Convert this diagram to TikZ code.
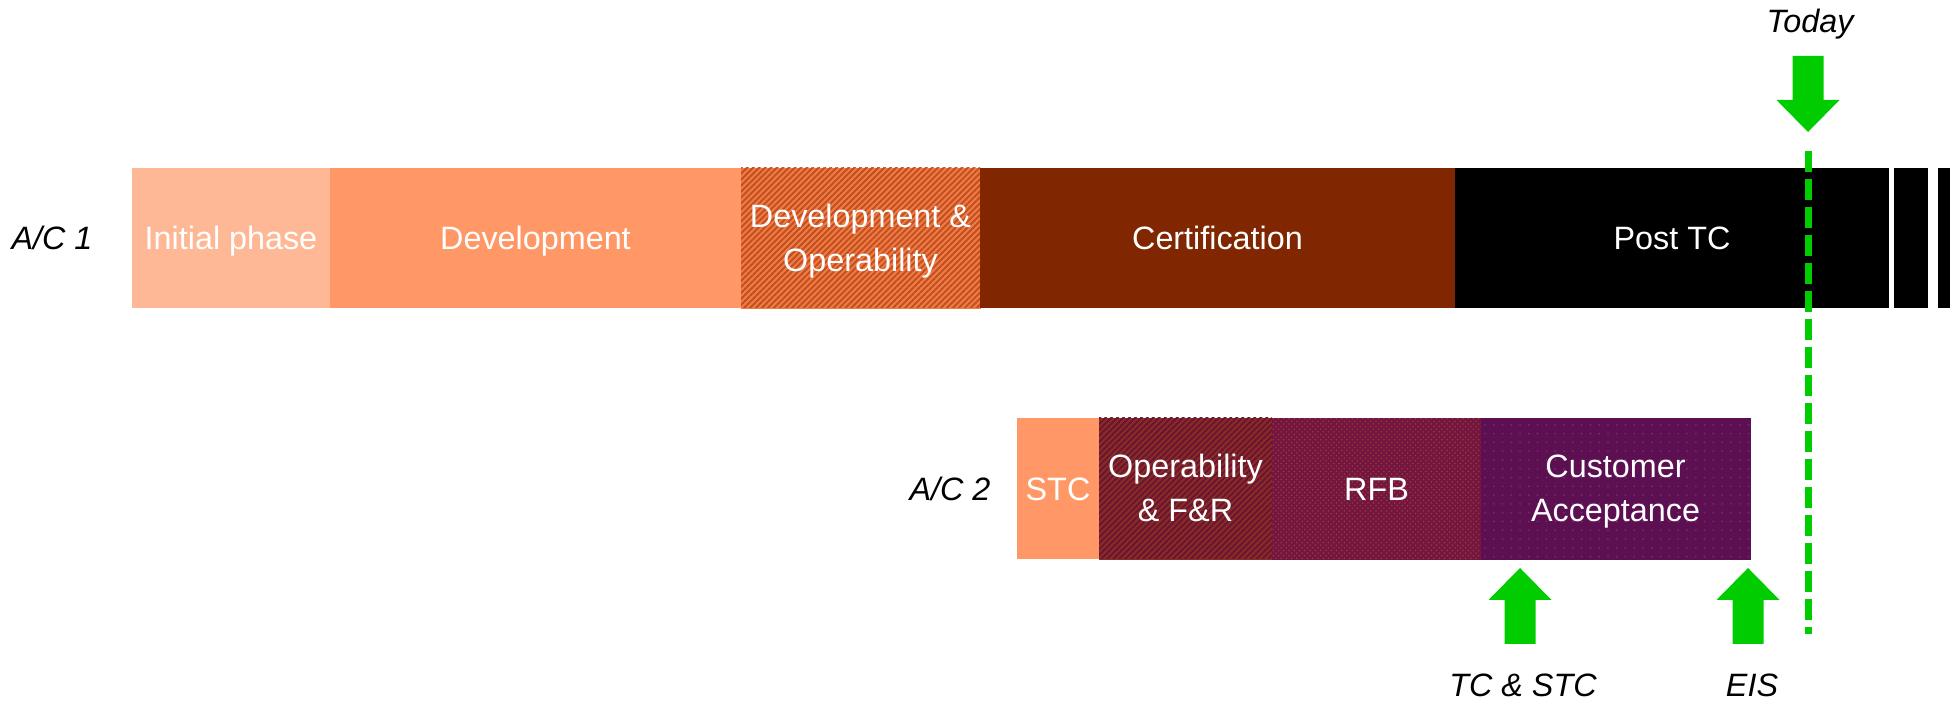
\documentclass[tikz,border=0pt]{standalone}
\usepackage{fontspec}
\setmainfont{Liberation Sans}
\usetikzlibrary{positioning,patterns,patterns.meta}

\definecolor{initclr}{RGB}{254,184,150}
\definecolor{devclr}{RGB}{255,152,102}
\definecolor{devopclr}{RGB}{238,124,70}
\definecolor{devopline}{RGB}{196,78,30}
\definecolor{certclr}{RGB}{128,38,0}
\definecolor{opfrclr}{RGB}{142,42,36}
\definecolor{opfrline}{RGB}{100,22,50}
\definecolor{rfbclr}{RGB}{112,22,64}
\definecolor{rfbdots}{RGB}{168,52,52}
\definecolor{caclr}{RGB}{92,16,82}
\definecolor{cadots}{RGB}{118,40,104}
\definecolor{markgreen}{RGB}{0,204,0}

\def\milearrow(#1,#2,#3){\fill[markgreen] (#1,#2) -- ++(0.63,{-0.64*(#3)}) -- ++(-0.32,0) -- ++(0,{-0.88*(#3)}) -- ++(-0.62,0) -- ++(0,{0.88*(#3)}) -- ++(-0.32,0) -- cycle;}

\tikzset{
	bar/.style={minimum height=2.8cm, inner sep=0pt, outer sep=0pt, text=white, align=center, font=\fontsize{18.4}{25}\selectfont, execute at begin node={\rule[-4pt]{0pt}{21.2pt}}},
	twoline/.style={execute at begin node={\rule[-4pt]{0pt}{46pt}}},
	lbl/.style={font=\fontsize{18.4}{22}\selectfont\itshape},
	hatchdev/.style={fill=devopclr, draw=devopclr, line width=0.4pt, postaction={pattern={Lines[angle=45,distance=2.4pt,line width=1.1pt]}, pattern color=devopline}},
	hatchop/.style={fill=opfrclr, draw=opfrclr, line width=0.4pt, postaction={pattern={Lines[angle=45,distance=2.4pt,line width=1.1pt]}, pattern color=opfrline}},
	dotrfb/.style={fill=rfbclr, draw=rfbclr, line width=0.4pt, postaction={pattern=crosshatch dots, pattern color=rfbdots}},
	dotca/.style={fill=caclr, draw=caclr, line width=0.4pt, postaction={pattern={Dots[distance=5pt,radius=0.6pt]}, pattern color=cadots}},
	todayline/.style={markgreen, line width=0.14cm, dash pattern=on 0.42cm off 0.14cm}
}

\begin{document}
\begin{tikzpicture}
			%%%%% START %%%%%
			\useasboundingbox (0,0) rectangle (39,14.12);
			
			% A/C 1
			\node[lbl] (ac1) at (1.04,9.36) {A/C 1};
			\node[bar, fill=initclr, minimum width=3.96cm, anchor=west] (init) at (2.64,9.36) {Initial phase};
			\node[bar, fill=devclr, minimum width=8.22cm, right=0pt of init] (dev) {Development};
			\node[bar, twoline, hatchdev, minimum width=4.78cm, right=0pt of dev] (devop) {Development \&\\Operability};
			\node[bar, fill=certclr, minimum width=9.50cm, right=0pt of devop] (cert) {Certification};
			\node[bar, fill=black, minimum width=8.68cm, right=0pt of cert] (posttc) {Post TC};
			\node[bar, fill=black, minimum width=0.68cm, right=0.10cm of posttc] (cont1) {};
			\node[bar, fill=black, minimum width=0.24cm, right=0.20cm of cont1] (cont2) {};
			
			% A/C 2
			\node[lbl] (ac2) at (19.0,4.35) {A/C 2};
			\node[bar, fill=devclr, minimum height=2.82cm, minimum width=1.64cm, anchor=west] (stc) at (20.34,4.35) {STC};
			\node[bar, twoline, hatchop, minimum height=2.82cm, minimum width=3.46cm, right=0pt of stc] (opfr) {Operability\\\& F\&R};
			\node[bar, dotrfb, minimum height=2.82cm, minimum width=4.18cm, right=0pt of opfr] (rfb) {RFB};
			\node[bar, twoline, dotca, minimum height=2.82cm, minimum width=5.38cm, right=0pt of rfb] (custacc) {Customer\\Acceptance};
			
			% today
			\coordinate (todaytop) at (36.17,11.10);
			\coordinate (todaybot) at (36.17,1.44);
			\draw[todayline] (todaytop) -- (todaybot);
			\milearrow(36.16,11.48,-1)
			\node[lbl, anchor=base] (today) at (36.2,13.46) {Today};
			
			% milestones
			\milearrow(30.40,2.76,1)
			\milearrow(34.96,2.76,1)
			\node[lbl, anchor=base] (tcstc) at (30.46,0.18) {TC \& STC};
			\node[lbl, anchor=base] (eis) at (35.04,0.18) {EIS};
			
			%%%%% END %%%%%
\end{tikzpicture}
\end{document}
